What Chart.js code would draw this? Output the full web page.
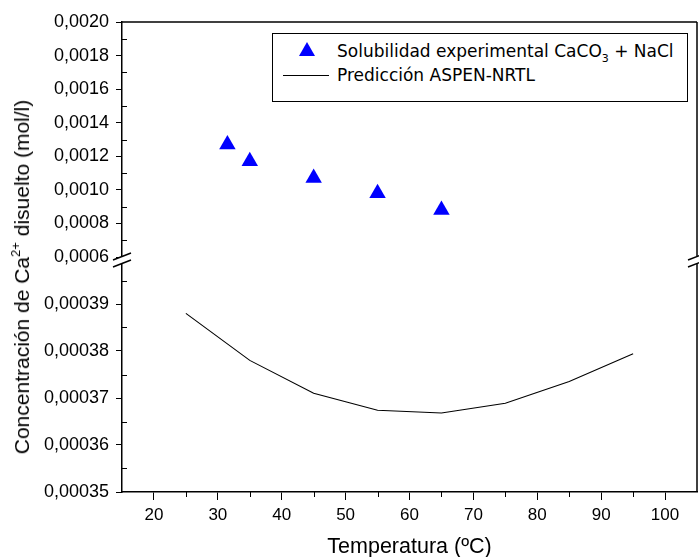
<!DOCTYPE html>
<html>
<head>
<meta charset="utf-8">
<script src="https://cdn.jsdelivr.net/npm/chart.js@4.4.1/dist/chart.umd.min.js"></script>
<style>
  html, body { margin: 0; padding: 0; background: #fff; }
  #wrap { position: relative; width: 699px; height: 557px; }
  #ytitle {
    position: absolute; left: 22px; top: 277px;
    transform: translate(-50%, -50%) rotate(-90deg);
    font: 21px "Liberation Sans", Arial, sans-serif; color: #000; white-space: nowrap;
  }
  #ytitle sup { font-size: 13px; vertical-align: 9px; line-height: 0; }
  #legend {
    position: absolute; left: 272px; top: 33px; width: 414px; height: 67px;
    border: 1.5px solid #000; background: #fff;
    font: 17px "DejaVu Sans", sans-serif; color: #000;
  }
  #legend .txt { position: absolute; left: 64px; line-height: 20px; white-space: nowrap; }
  #legend sub { font-size: 11px; vertical-align: -5px; line-height: 0; }
  #legend .tri {
    position: absolute; left: 26px; top: 8px; width: 0; height: 0;
    border-left: 8.5px solid transparent; border-right: 8.5px solid transparent;
    border-bottom: 14.5px solid #0000ff;
  }
  #legend .ln { position: absolute; left: 10px; top: 41px; width: 46px; border-top: 1px solid #000; }
</style>
</head>
<body>
<div id="wrap">
  <canvas id="chart" width="699" height="557"></canvas>
  <div id="ytitle">Concentración de Ca<sup>2+</sup> disuelto (mol/l)</div>
  <div id="legend">
    <span class="tri"></span>
    <span class="txt" style="top:7px">Solubilidad experimental CaCO<sub>3</sub> + NaCl</span>
    <span class="ln"></span>
    <span class="txt" style="top:31px">Predicción ASPEN-NRTL</span>
  </div>
</div>
<script>
// datos
const expTemp = [31.5, 35, 45, 55, 65];
const expSol = [0.00127, 0.00117, 0.00107, 0.00098, 0.00088];

const predTemp = [25, 35, 45, 55, 65, 75, 85, 95];
const predSol = [0.000388, 0.000378, 0.000371, 0.0003674, 0.0003668, 0.0003689, 0.0003735, 0.0003794];

const xTicks = [20, 30, 40, 50, 60, 70, 80, 90, 100];
const yTopTicks = ['0,0006', '0,0008', '0,0010', '0,0012', '0,0014', '0,0016', '0,0018', '0,0020'];
const yBotTicks = ['0,00035', '0,00036', '0,00037', '0,00038', '0,00039'];

Chart.defaults.font.family = '"Liberation Sans", Arial, sans-serif';
Chart.defaults.color = '#000';

const fmt = (v, d) => v.toFixed(d).replace('.', ',');
const xLabel = v => xTicks.includes(Math.round(v)) && Math.abs(v - Math.round(v)) < 1e-6 ? String(Math.round(v)) : '';
const topLabel = v => { const s = fmt(v, 4); return yTopTicks.includes(s) && Math.abs(v - parseFloat(s.replace(',', '.'))) < 1e-9 ? s : ''; };
const botLabel = v => { const s = fmt(v, 5); return yBotTicks.includes(s) && Math.abs(v - parseFloat(s.replace(',', '.'))) < 1e-10 ? s : ''; };

const labelFor = { x: xLabel, yTop: topLabel, yBot: botLabel };

// marco, ticks menores y cortes del eje
const frame = {
  id: 'frame',
  afterDraw(chart) {
    const { ctx, chartArea: a, scales } = chart;
    const line = (x1, y1, x2, y2) => { ctx.beginPath(); ctx.moveTo(x1, y1); ctx.lineTo(x2, y2); ctx.stroke(); };
    ctx.save();
    ctx.strokeStyle = '#000';
    ctx.lineWidth = 1.5;
    line(a.left, a.top, a.right, a.top);
    line(a.right, a.top, a.right, a.bottom);

    ctx.lineWidth = 1;
    ['yTop', 'yBot'].forEach(id => {
      const s = scales[id];
      s.ticks.forEach((t, i) => {
        if (labelFor[id](t.value) === '' && !(id === 'yBot' && i === s.ticks.length - 1)) {
          const py = Math.round(s.getPixelForValue(t.value)) + 0.5;
          line(a.left, py, a.left + 5, py);
        }
      });
    });
    scales.x.ticks.forEach(t => {
      if (xLabel(t.value) === '' && t.value > 15 && t.value < 105) {
        const px = Math.round(scales.x.getPixelForValue(t.value)) + 0.5;
        line(px, a.bottom, px, a.bottom + 5);
      }
    });

    const b = scales.yTop.bottom;
    [a.left, a.right].forEach(ex => {
      ctx.fillStyle = '#fff';
      ctx.fillRect(ex - 3, b - 1, 6, 8);
      ctx.lineWidth = 1.5;
      line(ex - 9, b + 3, ex + 9, b - 4);
      line(ex - 9, b + 10, ex + 9, b + 3);
    });
    ctx.restore();
  }
};

const xFont = { size: 17 };
const yFont = { size: 18 };

new Chart(document.getElementById('chart'), {
  type: 'scatter',
  data: {
    datasets: [
      {
        label: 'Solubilidad experimental CaCO3 + NaCl',
        data: expTemp.map((t, i) => ({ x: t, y: expSol[i] })),
        yAxisID: 'yTop',
        pointStyle: 'triangle',
        pointRadius: 9.5,
        pointBackgroundColor: '#0000ff',
        pointBorderWidth: 0
      },
      {
        label: 'Predicción ASPEN-NRTL',
        data: predTemp.map((t, i) => ({ x: t, y: predSol[i] })),
        yAxisID: 'yBot',
        showLine: true,
        borderColor: '#000',
        borderWidth: 1.1,
        pointRadius: 0
      }
    ]
  },
  options: {
    responsive: false,
    animation: false,
    devicePixelRatio: 1,
    layout: { autoPadding: false, padding: { top: 22, right: 2, left: 0, bottom: 0 } },
    plugins: { legend: { display: false }, tooltip: { enabled: false } },
    scales: {
      x: {
        type: 'linear',
        min: 15, max: 105,
        border: { color: '#000', width: 1.5 },
        grid: {
          drawOnChartArea: false, tickLength: 8,
          tickColor: c => (c.tick && xLabel(c.tick.value) !== '') ? '#000' : 'rgba(0,0,0,0)'
        },
        ticks: { stepSize: 5, autoSkip: false, maxRotation: 0, padding: 5, font: xFont, callback: v => xLabel(v) },
        title: { display: true, text: 'Temperatura (ºC)', font: { size: 21.5 }, padding: { top: 0, bottom: -3 } },
        afterFit: s => { s.height = 65; s.paddingLeft = 0; s.paddingRight = 0; }
      },
      yTop: {
        type: 'linear', position: 'left', stack: 'conc', stackWeight: 1, weight: 2,
        min: 0.0006, max: 0.002,
        border: { color: '#000', width: 1.5 },
        grid: {
          drawOnChartArea: false, tickLength: 6,
          tickColor: c => (c.tick && topLabel(c.tick.value) !== '') ? '#000' : 'rgba(0,0,0,0)'
        },
        ticks: { stepSize: 0.0001, autoSkip: false, padding: 7, font: yFont, callback: v => topLabel(v) },
        afterFit: s => { s.width = 122; }
      },
      yBot: {
        type: 'linear', position: 'left', stack: 'conc', stackWeight: 1, weight: 1,
        min: 0.00035, max: 0.0004,
        border: { color: '#000', width: 1.5 },
        grid: {
          drawOnChartArea: false, tickLength: 6,
          tickColor: c => (c.tick && botLabel(c.tick.value) !== '') ? '#000' : 'rgba(0,0,0,0)'
        },
        ticks: { stepSize: 0.000005, autoSkip: false, padding: 7, font: yFont, callback: v => botLabel(v) },
        afterFit: s => { s.width = 122; }
      }
    }
  },
  plugins: [frame]
});
</script>
</body>
</html>
